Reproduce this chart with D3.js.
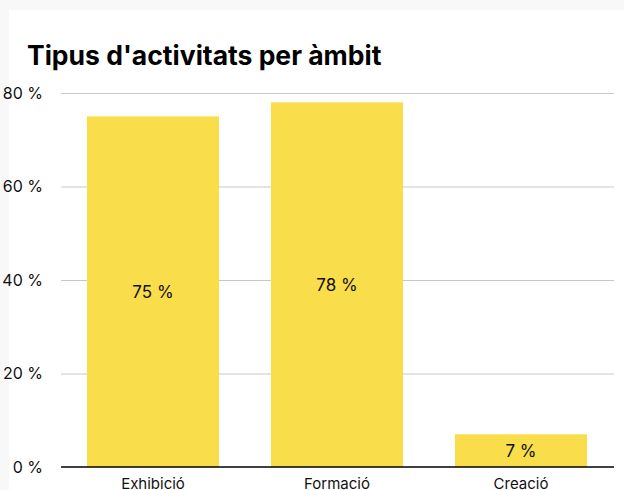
<!DOCTYPE html>
<html><head><meta charset="utf-8">
<script src="https://cdn.jsdelivr.net/npm/d3@7"></script>
<style>
html,body{margin:0;padding:0;background:#f8f8f8;overflow:hidden;}
#card{position:absolute;left:9px;top:10px;width:615px;height:480px;background:#fff;}
svg{position:absolute;left:0;top:0;}
</style></head>
<body><div id="card"></div><svg id="chart" width="624" height="490"></svg>
<script>
const title = "Tipus d'activitats per àmbit";
const categories = ["Exhibició", "Formació", "Creació"];
const values = [75, 78, 7];
const tickValues = [0, 20, 40, 60, 80];

const svg = d3.select("#chart");
const plotLeft = 61, plotRight = 613, plotTop = 93, plotBottom = 467;

const x = d3.scaleBand().domain(categories).range([plotLeft, plotRight]).paddingInner(52/184).paddingOuter(26/184);
const y = d3.scaleLinear().domain([0, 80]).range([plotBottom, plotTop]);

svg.append("text").attr("x", 27).attr("y", 65)
  .attr("font-family", "Inter, Roboto, sans-serif").attr("font-weight", 700)
  .attr("font-size", 26.5).attr("fill", "#000").text(title);

// gridlines
const grid = svg.append("g").attr("transform", `translate(${plotLeft},0)`)
  .call(d3.axisLeft(y).tickValues(tickValues.filter(d => d > 0)).tickSize(-(plotRight - plotLeft + 1)).tickFormat(""));
grid.select(".domain").remove();
grid.selectAll("line").attr("stroke", "#c8c8c8").attr("stroke-width", 1);

// y tick labels
const yAx = svg.append("g").attr("transform", `translate(43,0)`)
  .call(d3.axisLeft(y).tickValues(tickValues).tickSize(0).tickPadding(0).tickFormat(d => d + " %"));
yAx.select(".domain").remove();
yAx.selectAll("text").attr("font-family", "Inter, sans-serif").attr("font-size", 16).attr("fill", "#111");

// bars
svg.append("g").selectAll("rect").data(values).join("rect")
  .attr("x", (d, i) => x(categories[i])).attr("width", x.bandwidth())
  .attr("y", d => y(d)).attr("height", d => y(0) - y(d))
  .attr("fill", "#fadd4b");

// value labels
svg.append("g").selectAll("text").data(values).join("text")
  .attr("x", (d, i) => x(categories[i]) + x.bandwidth() / 2)
  .attr("y", d => (y(d) + y(0)) / 2)
  .attr("dy", "0.35em").attr("text-anchor", "middle")
  .attr("font-family", "Inter, sans-serif").attr("font-size", 17).attr("fill", "#111")
  .text(d => d + " %");

// x axis
const xAx = svg.append("g").attr("transform", `translate(0,${plotBottom})`)
  .call(d3.axisBottom(x).tickSize(0).tickPadding(11));
xAx.select(".domain").attr("stroke", "#000").attr("stroke-width", 1.5).attr("d", `M${plotLeft},0H${plotRight + 1}`);
xAx.selectAll("text").attr("font-family", "Inter, sans-serif").attr("font-size", 15).attr("fill", "#111");
</script></body></html>
